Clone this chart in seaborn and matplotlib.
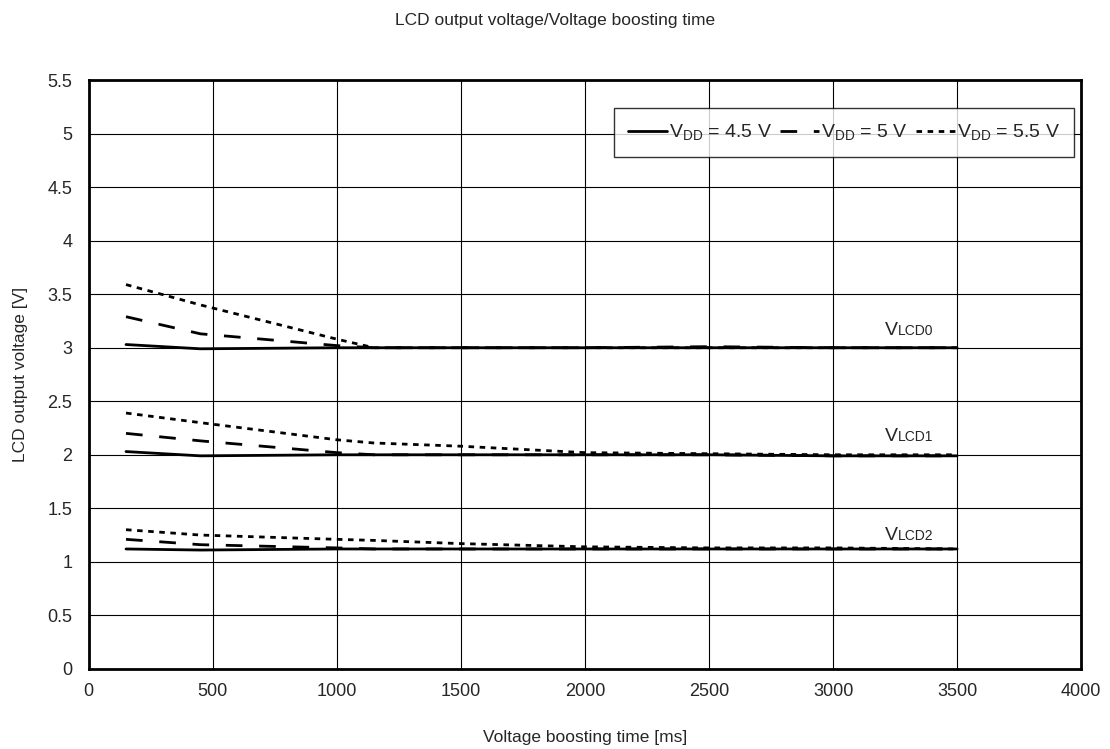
import numpy as np
import pandas as pd
import matplotlib
matplotlib.use('Agg')
import matplotlib.pyplot as plt
from matplotlib.offsetbox import TextArea, HPacker, AnnotationBbox
import seaborn as sns

sns.set_style('white')
plt.rcParams['font.family'] = ['Liberation Sans', 'DejaVu Sans']
plt.rcParams['mathtext.fontset'] = 'custom'
plt.rcParams['mathtext.rm'] = 'Liberation Sans'

# boosting time [ms]
time_ms = [150, 450, 1000, 1150, 1500, 2000, 2500, 3000, 3500]

# VLCD0
lcd0_45 = [3.03, 2.99, 3.00, 3.00, 3.00, 3.00, 3.00, 3.00, 3.00]
lcd0_50 = [3.29, 3.13, 3.02, 3.00, 3.00, 3.00, 3.01, 3.00, 3.00]
lcd0_55 = [3.59, 3.40, 3.08, 3.00, 3.00, 3.00, 3.00, 3.00, 3.00]
# VLCD1
lcd1_45 = [2.03, 1.99, 2.00, 2.00, 2.00, 2.00, 2.00, 1.99, 1.99]
lcd1_50 = [2.20, 2.13, 2.02, 2.00, 2.00, 2.00, 2.00, 1.99, 1.99]
lcd1_55 = [2.39, 2.30, 2.14, 2.11, 2.08, 2.02, 2.01, 2.00, 2.00]
# VLCD2
lcd2_45 = [1.12, 1.11, 1.12, 1.12, 1.12, 1.12, 1.12, 1.12, 1.12]
lcd2_50 = [1.21, 1.16, 1.13, 1.12, 1.12, 1.12, 1.12, 1.12, 1.12]
lcd2_55 = [1.30, 1.25, 1.21, 1.20, 1.17, 1.14, 1.13, 1.13, 1.12]

vdd_labels = ['V$_{\\mathrm{DD}}$ = 4.5 V', 'V$_{\\mathrm{DD}}$ = 5 V', 'V$_{\\mathrm{DD}}$ = 5.5 V']
lcd_subs = ['LCD0', 'LCD1', 'LCD2']
lcd_label_y = [3.08, 2.095, 1.17]

series = {
    (0, 0): lcd0_45, (0, 1): lcd0_50, (0, 2): lcd0_55,
    (1, 0): lcd1_45, (1, 1): lcd1_50, (1, 2): lcd1_55,
    (2, 0): lcd2_45, (2, 1): lcd2_50, (2, 2): lcd2_55,
}
styles = ['-', (0, (6, 6)), (0, (2, 2))]

fig = plt.figure(figsize=(11.1, 7.49), dpi=100)
ax = fig.add_axes([0.080, 0.107, 0.894, 0.786])

for (i, j), vals in series.items():
    df = pd.DataFrame({'t': time_ms, 'v': vals})
    sns.lineplot(data=df, x='t', y='v', ax=ax, color='black', lw=2.0,
                 linestyle=styles[j], label=vdd_labels[j] if i == 0 else None)

ax.set_xlim(0, 4000)
ax.set_ylim(0, 5.5)
ax.set_xticks(np.arange(0, 4001, 500))
ax.set_yticks(np.arange(0, 5.51, 0.5))
ax.set_yticklabels(['0', '0.5', '1', '1.5', '2', '2.5', '3', '3.5', '4', '4.5', '5', '5.5'])
ax.grid(True, color='black', lw=0.8)
ax.tick_params(labelsize=13, length=0)
ax.tick_params(axis='x', pad=10)
ax.tick_params(axis='y', pad=12)
for s in ax.spines.values():
    s.set_color('black')
    s.set_linewidth(2)

ax.set_xlabel('Voltage boosting time [ms]', fontsize=12.5, labelpad=22)
ax.set_ylabel('LCD output voltage [V]', fontsize=12.5, labelpad=14)
fig.suptitle('LCD output voltage/Voltage boosting time', fontsize=12.5, y=0.982, va='top')

for sub, yv in zip(lcd_subs, lcd_label_y):
    box = HPacker(children=[TextArea('V', textprops=dict(size=14)),
                            TextArea(sub, textprops=dict(size=10))],
                  align='baseline', pad=0, sep=0)
    ab = AnnotationBbox(box, (3210, yv), box_alignment=(0, 0), frameon=False, pad=0)
    ax.add_artist(ab)

leg = ax.legend(loc='upper right', ncol=3, fontsize=14, handlelength=2.0,
                handletextpad=0.12, columnspacing=0.4, frameon=True, fancybox=False,
                borderpad=0.72, bbox_to_anchor=(0.993, 0.952), borderaxespad=0)
leg.get_frame().set_edgecolor('black')
leg.get_frame().set_linewidth(1.0)

fig.savefig('out.png', dpi=100)
